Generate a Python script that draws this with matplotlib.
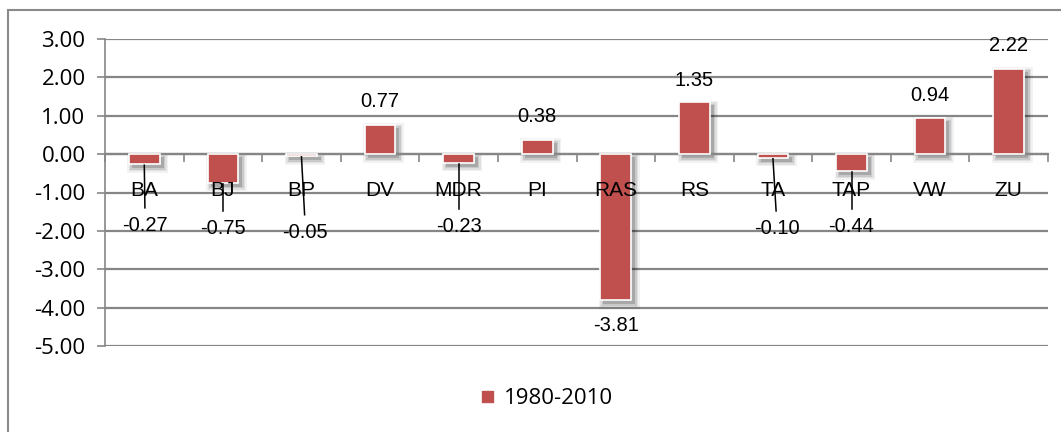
import matplotlib
matplotlib.use('Agg')
import matplotlib.pyplot as plt
from matplotlib.patches import Rectangle

# data
categories = ['BA', 'BJ', 'BP', 'DV', 'MDR', 'PI', 'RAS', 'RS', 'TA', 'TAP', 'VW', 'ZU']
values = [-0.27, -0.75, -0.05, 0.77, -0.23, 0.38, -3.81, 1.35, -0.10, -0.44, 0.94, 2.22]
series_name = '1980-2010'
yticks = [3, 2, 1, 0, -1, -2, -3, -4, -5]

BAR = '#C0504D'
GRID = '#868686'
W, H = 1061, 432

fig = plt.figure(figsize=(W / 100, H / 100), dpi=100)
ax = fig.add_axes([105 / W, 1 - 346 / H, (1048 - 105) / W, (346 - 39) / H])

x = list(range(len(categories)))
width = 0.39

# soft drop shadow, a few widening grey layers shifted down-right
dx, dy = 3.5 / 78.6, 3.5 / 38.33
for grow, alpha in [(10, 0.05), (7, 0.07), (4, 0.10), (1, 0.16)]:
    gx = grow / 78.6
    gy = grow / 38.33
    for xi, v in zip(x, values):
        lo = min(0, v) - dy - gy / 2
        hi = max(0, v) - dy + gy / 2
        ax.add_patch(Rectangle((xi + dx - (width + gx) / 2, lo), width + gx, hi - lo,
                               facecolor='#000000', alpha=alpha, lw=0, zorder=2))

ax.bar(x, values, width=width, color=BAR, edgecolor='white', linewidth=1.2,
       zorder=3, label=series_name)

ax.set_xlim(-0.5, len(categories) - 0.5)
ax.set_ylim(-5, 3)
ax.set_yticks(yticks)
ax.set_yticklabels([f'{t:.2f}' for t in yticks], family='Open Sans', fontsize=16)
ax.yaxis.grid(True, color=GRID, lw=1.6, zorder=0)
ax.set_axisbelow(True)
ax.tick_params(axis='y', direction='out', length=6, width=1.2, color=GRID, pad=8)

# category axis crosses at zero, ticks between the categories
ax.spines['bottom'].set_position(('data', 0))
ax.spines['bottom'].set_color(GRID)
ax.spines['bottom'].set_linewidth(1.6)
ax.spines['left'].set_color(GRID)
ax.spines['left'].set_linewidth(1.2)
ax.spines['top'].set_visible(False)
ax.spines['right'].set_visible(False)
ax.set_xticks([i - 0.5 for i in range(len(categories) + 1)])
ax.set_xticklabels([])
ax.tick_params(axis='x', direction='out', length=6, width=1.2, color=GRID)

for xi, name in zip(x, categories):
    ax.text(xi, -0.94, name, ha='center', va='center', family='Liberation Sans',
            fontsize=15, zorder=5)

# data labels (y in data units, small x nudge in category units)
label_y = [-1.85, -1.93, -2.03, 1.36, -1.88, 0.97, -4.46, 1.93, -1.93, -1.88, 1.54, 2.82]
label_dx = [0.01, 0.0, 0.05, 0.0, 0.0, 0.0, 0.0, 0.0, 0.05, 0.0, 0.0, 0.0]
for xi, v, ly, ldx in zip(x, values, label_y, label_dx):
    ax.text(xi + ldx, ly, f'{v:.2f}', ha='center', va='center',
            family='Liberation Sans', fontsize=14.5, zorder=6)
    if v < 0 and ly > -3:
        # leader line from bar end to the label
        ax.plot([xi, xi + ldx * 0.8], [v - 0.02, ly + 0.45], color='black', lw=1.1, zorder=6)

leg = fig.legend(loc='center', bbox_to_anchor=(547 / W, 1 - 399 / H), frameon=False,
                 handlelength=0.6, handleheight=0.6, handletextpad=0.4,
                 prop={'family': 'Open Sans', 'size': 16})

# outer chart border, cut off at the right and bottom edges
fig.patches.append(Rectangle((8 / W, -0.05), 1.2, 1 - 10 / H + 0.05, transform=fig.transFigure,
                             facecolor='none', edgecolor='#8A8A8A', lw=1.5))

fig.savefig('out.png', dpi=100)
